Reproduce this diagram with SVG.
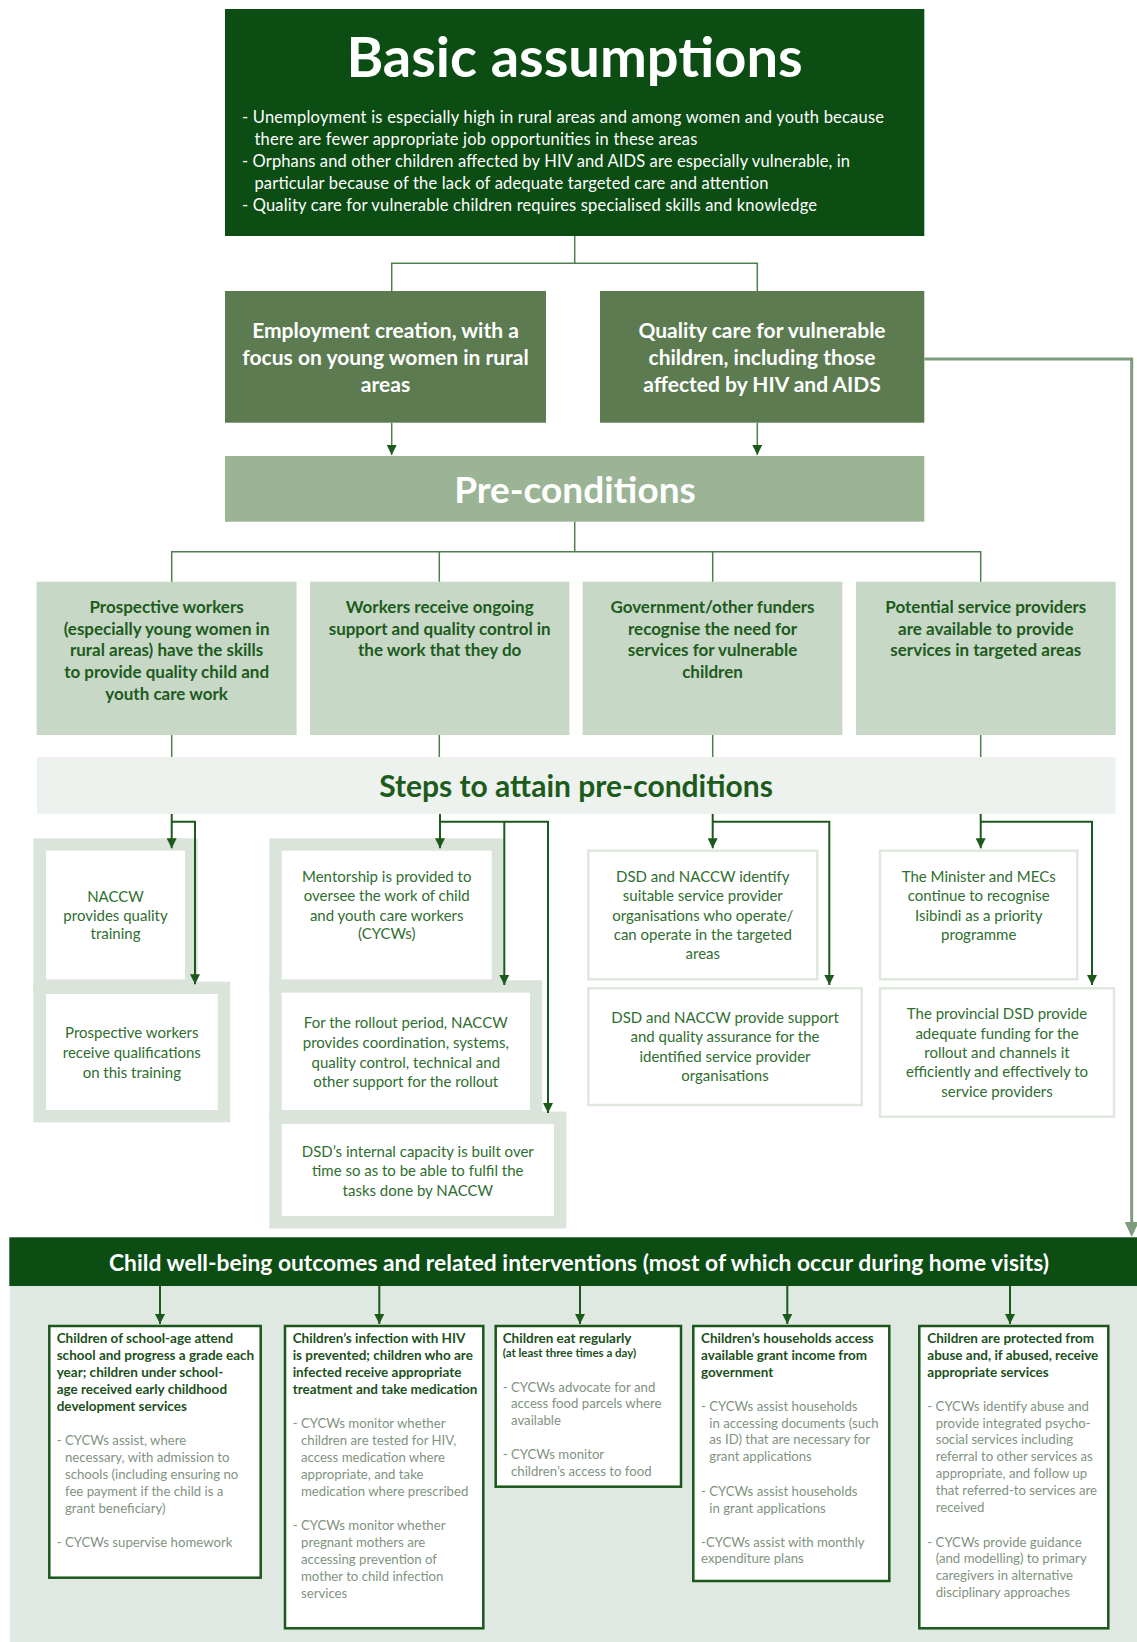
<svg xmlns="http://www.w3.org/2000/svg" width="1137" height="1642" viewBox="0 0 1137 1642">
<defs>
<style>
text{font-family:Lato,"Open Sans","Liberation Sans",sans-serif}
.w{fill:#ffffff}
.title{font-size:56px;font-weight:700;text-anchor:middle}
.bul{font-size:16.5px}
.l2{font-size:21px;font-weight:700;text-anchor:middle}
.pc{font-size:37px;font-weight:700;text-anchor:middle}
.pre{font-size:17px;font-weight:700;fill:#1d5b1d;text-anchor:middle}
.st{font-size:30px;font-weight:700;fill:#1d5b1d;text-anchor:middle}
.stp{font-size:15px;fill:#2f6e2f;text-anchor:middle}
.cw{font-size:22.8px;font-weight:700;text-anchor:middle}
.oh{font-size:13.5px;font-weight:700;fill:#1b4f1b}
.oh2{font-size:11.5px;font-weight:700;fill:#1b4f1b}
.ob{font-size:13.2px;fill:#7f937f}
.c1{fill:none;stroke:#4f7f4f;stroke-width:1.5}
.c2{fill:none;stroke:#1b5a1b;stroke-width:2}
.frame{fill:#dbe4db}
.inner{fill:#ffffff}
.thin{fill:#ffffff;stroke:#dfe7df;stroke-width:2.5}
.ob-box{fill:#ffffff;stroke:#1b561b;stroke-width:2.5}
</style>
<marker id="ah" markerWidth="10" markerHeight="10" refX="10" refY="5" orient="auto" markerUnits="userSpaceOnUse">
<path d="M0,0 L10,5 L0,10 z" fill="#1b5a1b"/>
</marker>
</defs>
<rect width="1137" height="1642" fill="#ffffff"/>

<g id="basic-assumptions">
<rect x="225" y="9" width="699.3" height="227" fill="#0b4d13"/>
<text class="title w" x="574.5" y="76.7">Basic assumptions</text>
<text class="bul w" x="242" y="123" textLength="642">- Unemployment is especially high in rural areas and among women and youth because</text>
<text class="bul w" x="254.4" y="145" textLength="443">there are fewer appropriate job opportunities in these areas</text>
<text class="bul w" x="242" y="167" textLength="608">- Orphans and other children affected by HIV and AIDS are especially vulnerable, in</text>
<text class="bul w" x="254.4" y="189" textLength="514">particular because of the lack of adequate targeted care and attention</text>
<text class="bul w" x="242" y="211" textLength="575">- Quality care for vulnerable children requires specialised skills and knowledge</text>
</g>

<g id="employment">
<rect x="225" y="291" width="321" height="131.7" fill="#5c7b51"/>
<text class="l2 w" x="385.5" y="338">Employment creation, with a</text>
<text class="l2 w" x="385.5" y="365">focus on young women in rural</text>
<text class="l2 w" x="385.5" y="391.7">areas</text>
</g>

<g id="quality-care">
<rect x="600" y="291" width="324.3" height="131.7" fill="#5c7b51"/>
<text class="l2 w" x="762" y="338">Quality care for vulnerable</text>
<text class="l2 w" x="762" y="365">children, including those</text>
<text class="l2 w" x="762" y="391.7">affected by HIV and AIDS</text>
</g>

<g id="pre-conditions">
<rect x="225" y="456" width="699.3" height="65.7" fill="#9ab495"/>
<text class="pc w" x="575" y="503">Pre-conditions</text>
</g>

<g id="pre-1">
<rect x="36.6" y="581.7" width="260" height="153.3" fill="#c8d8c7"/>
<text class="pre" x="166.6" y="613">Prospective workers</text>
<text class="pre" x="166.6" y="634.7">(especially young women in</text>
<text class="pre" x="166.6" y="656.3">rural areas) have the skills</text>
<text class="pre" x="166.6" y="678">to provide quality child and</text>
<text class="pre" x="166.6" y="699.7">youth care work</text>
</g>
<g id="pre-2">
<rect x="310" y="581.7" width="259.3" height="153.3" fill="#c8d8c7"/>
<text class="pre" x="439.7" y="613">Workers receive ongoing</text>
<text class="pre" x="439.7" y="634.7">support and quality control in</text>
<text class="pre" x="439.7" y="656.3">the work that they do</text>
</g>
<g id="pre-3">
<rect x="582.7" y="581.7" width="259.6" height="153.3" fill="#c8d8c7"/>
<text class="pre" x="712.5" y="613">Government/other funders</text>
<text class="pre" x="712.5" y="634.7">recognise the need for</text>
<text class="pre" x="712.5" y="656.3">services for vulnerable</text>
<text class="pre" x="712.5" y="678">children</text>
</g>
<g id="pre-4">
<rect x="856" y="581.7" width="259.7" height="153.3" fill="#c8d8c7"/>
<text class="pre" x="985.8" y="613">Potential service providers</text>
<text class="pre" x="985.8" y="634.7">are available to provide</text>
<text class="pre" x="985.8" y="656.3">services in targeted areas</text>
</g>

<g id="steps">
<rect x="37" y="757" width="1078.7" height="57" fill="#eef2ee"/>
<text class="st" x="576" y="796.7">Steps to attain pre-conditions</text>
</g>

<g id="step-1a">
<rect class="frame" x="33.3" y="838.3" width="164.4" height="153.4"/>
<rect class="inner" x="46" y="850.7" width="139" height="128.6"/>
<text class="stp" x="115.5" y="901.7">NACCW</text>
<text class="stp" x="115.5" y="920.7">provides quality</text>
<text class="stp" x="115.5" y="939.3">training</text>
</g>
<g id="step-1b">
<rect class="frame" x="33.3" y="981.7" width="197" height="140.6"/>
<rect class="inner" x="46" y="994" width="171.7" height="116"/>
<text class="stp" x="131.8" y="1038.3">Prospective workers</text>
<text class="stp" x="131.8" y="1058.3">receive qualifications</text>
<text class="stp" x="131.8" y="1077.7">on this training</text>
</g>
<g id="step-2a">
<rect class="frame" x="269.3" y="838.3" width="235" height="153.4"/>
<rect class="inner" x="281.7" y="850.7" width="210" height="128.6"/>
<text class="stp" x="386.7" y="881.7">Mentorship is provided to</text>
<text class="stp" x="386.7" y="901">oversee the work of child</text>
<text class="stp" x="386.7" y="920.7">and youth care workers</text>
<text class="stp" x="386.7" y="939.3">(CYCWs)</text>
</g>
<g id="step-2b">
<rect class="frame" x="269.3" y="980.3" width="273" height="142"/>
<rect class="inner" x="281.7" y="992.7" width="248.3" height="117.3"/>
<text class="stp" x="405.8" y="1028.3">For the rollout period, NACCW</text>
<text class="stp" x="405.8" y="1048.3">provides coordination, systems,</text>
<text class="stp" x="405.8" y="1068.3">quality control, technical and</text>
<text class="stp" x="405.8" y="1086.7">other support for the rollout</text>
</g>
<g id="step-2c">
<rect class="frame" x="269.3" y="1111.5" width="297.1" height="117"/>
<rect class="inner" x="281.7" y="1124" width="272.3" height="92"/>
<text class="stp" x="417.8" y="1156.7">DSD’s internal capacity is built over</text>
<text class="stp" x="417.8" y="1176">time so as to be able to fulfil the</text>
<text class="stp" x="417.8" y="1196">tasks done by NACCW</text>
</g>
<g id="step-3a">
<rect class="thin" x="588.3" y="850.7" width="229" height="128.6"/>
<text class="stp" x="702.8" y="881.7">DSD and NACCW identify</text>
<text class="stp" x="702.8" y="901">suitable service provider</text>
<text class="stp" x="702.8" y="920.7">organisations who operate/</text>
<text class="stp" x="702.8" y="940">can operate in the targeted</text>
<text class="stp" x="702.8" y="959.3">areas</text>
</g>
<g id="step-3b">
<rect class="thin" x="588.3" y="988.3" width="273.4" height="116.7"/>
<text class="stp" x="725" y="1022.7">DSD and NACCW provide support</text>
<text class="stp" x="725" y="1042.3">and quality assurance for the</text>
<text class="stp" x="725" y="1061.7">identified service provider</text>
<text class="stp" x="725" y="1081">organisations</text>
</g>
<g id="step-4a">
<rect class="thin" x="880" y="850.7" width="197.3" height="128.6"/>
<text class="stp" x="978.7" y="881.7">The Minister and MECs</text>
<text class="stp" x="978.7" y="901">continue to recognise</text>
<text class="stp" x="978.7" y="920.7">Isibindi as a priority</text>
<text class="stp" x="978.7" y="940">programme</text>
</g>
<g id="step-4b">
<rect class="thin" x="880" y="988.3" width="234" height="128.4"/>
<text class="stp" x="997" y="1019">The provincial DSD provide</text>
<text class="stp" x="997" y="1038.7">adequate funding for the</text>
<text class="stp" x="997" y="1057.7">rollout and channels it</text>
<text class="stp" x="997" y="1077.3">efficiently and effectively to</text>
<text class="stp" x="997" y="1096.7">service providers</text>
</g>

<g id="outcomes">
<rect x="10" y="1286" width="1127" height="356" fill="#dfe8e1"/>
<rect x="9.3" y="1237.3" width="1127.7" height="48.7" fill="#0b4d13"/>
<text class="cw w" x="579" y="1270.5" textLength="940">Child well-being outcomes and related interventions (most of which occur during home visits)</text>
</g>

<g id="outcome-1">
<rect class="ob-box" x="49.3" y="1326" width="211.4" height="251.7"/>
<text class="oh" x="56.7" y="1343.3">Children of school-age attend</text>
<text class="oh" x="56.7" y="1360">school and progress a grade each</text>
<text class="oh" x="56.7" y="1377.3">year; children under school-</text>
<text class="oh" x="56.7" y="1394">age received early childhood</text>
<text class="oh" x="56.7" y="1410.7">development services</text>
<text class="ob" x="56.7" y="1445">- CYCWs assist, where</text>
<text class="ob" x="65" y="1462.3">necessary, with admission to</text>
<text class="ob" x="65" y="1479.3">schools (including ensuring no</text>
<text class="ob" x="65" y="1496">fee payment if the child is a</text>
<text class="ob" x="65" y="1512.7">grant beneficiary)</text>
<text class="ob" x="56.7" y="1546.7">- CYCWs supervise homework</text>
</g>
<g id="outcome-2">
<rect class="ob-box" x="285" y="1326" width="198.3" height="302.3"/>
<text class="oh" x="292.7" y="1343.3">Children’s infection with HIV</text>
<text class="oh" x="292.7" y="1360">is prevented; children who are</text>
<text class="oh" x="292.7" y="1377.3">infected receive appropriate</text>
<text class="oh" x="292.7" y="1394">treatment and take medication</text>
<text class="ob" x="292.7" y="1428.3">- CYCWs monitor whether</text>
<text class="ob" x="301" y="1445">children are tested for HIV,</text>
<text class="ob" x="301" y="1462">access medication where</text>
<text class="ob" x="301" y="1479">appropriate, and take</text>
<text class="ob" x="301" y="1496">medication where prescribed</text>
<text class="ob" x="292.7" y="1530">- CYCWs monitor whether</text>
<text class="ob" x="301" y="1547">pregnant mothers are</text>
<text class="ob" x="301" y="1564">accessing prevention of</text>
<text class="ob" x="301" y="1581">mother to child infection</text>
<text class="ob" x="301" y="1597.7">services</text>
</g>
<g id="outcome-3">
<rect class="ob-box" x="495.7" y="1326" width="185.3" height="160.7"/>
<text class="oh" x="502.7" y="1343.3">Children eat regularly</text>
<text class="oh2" x="502.7" y="1357.3">(at least three times a day)</text>
<text class="ob" x="502.7" y="1391.7">- CYCWs advocate for and</text>
<text class="ob" x="511" y="1408.3">access food parcels where</text>
<text class="ob" x="511" y="1425">available</text>
<text class="ob" x="502.7" y="1459.3">- CYCWs monitor</text>
<text class="ob" x="511" y="1476">children’s access to food</text>
</g>
<g id="outcome-4">
<rect class="ob-box" x="693.3" y="1326" width="196" height="255"/>
<text class="oh" x="701" y="1343.3">Children’s households access</text>
<text class="oh" x="701" y="1360">available grant income from</text>
<text class="oh" x="701" y="1377.3">government</text>
<text class="ob" x="701" y="1410.7">- CYCWs assist households</text>
<text class="ob" x="709.3" y="1427.7">in accessing documents (such</text>
<text class="ob" x="709.3" y="1444.3">as ID) that are necessary for</text>
<text class="ob" x="709.3" y="1461">grant applications</text>
<text class="ob" x="701" y="1496">- CYCWs assist households</text>
<text class="ob" x="709.3" y="1513">in grant applications</text>
<text class="ob" x="701" y="1546.7">-CYCWs assist with monthly</text>
<text class="ob" x="701" y="1563.3">expenditure plans</text>
</g>
<g id="outcome-5">
<rect class="ob-box" x="919.3" y="1326" width="189" height="302.3"/>
<text class="oh" x="927.3" y="1343.3">Children are protected from</text>
<text class="oh" x="927.3" y="1360">abuse and, if abused, receive</text>
<text class="oh" x="927.3" y="1377.3">appropriate services</text>
<text class="ob" x="927.3" y="1410.7">- CYCWs identify abuse and</text>
<text class="ob" x="935.7" y="1427.7">provide integrated psycho-</text>
<text class="ob" x="935.7" y="1444.3">social services including</text>
<text class="ob" x="935.7" y="1461">referral to other services as</text>
<text class="ob" x="935.7" y="1478">appropriate, and follow up</text>
<text class="ob" x="935.7" y="1495">that referred-to services are</text>
<text class="ob" x="935.7" y="1512">received</text>
<text class="ob" x="927.3" y="1546.7">- CYCWs provide guidance</text>
<text class="ob" x="935.7" y="1563.3">(and modelling) to primary</text>
<text class="ob" x="935.7" y="1580">caregivers in alternative</text>
<text class="ob" x="935.7" y="1597">disciplinary approaches</text>
</g>

<g id="connectors">
<path class="c1" d="M574.7,236 V263.3 M391.7,291 V263.3 H757.3 V291"/>
<path class="c1" d="M391.7,422.7 V455" marker-end="url(#ah)"/>
<path class="c1" d="M757.3,422.7 V455" marker-end="url(#ah)"/>
<path class="c1" d="M574.7,521.7 V551.7 M171.7,581.7 V551.7 H980.7 V581.7 M439.3,551.7 V581.7 M712.7,551.7 V581.7"/>
<path class="c1" d="M171.7,735 V757 M439.3,735 V757 M712.7,735 V757 M980.7,735 V757"/>
<path fill="none" stroke="#7d9c79" stroke-width="3" d="M924.3,359 H1131.7 V1224"/>
<path fill="#7d9c79" d="M1124.7,1222 L1138.7,1222 L1131.7,1237 z"/>
<path class="c2" d="M171.7,814 V848.3" marker-end="url(#ah)"/>
<path class="c2" d="M171.7,821.7 H195 V984.3" marker-end="url(#ah)"/>
<path class="c2" d="M440,814 V848.3" marker-end="url(#ah)"/>
<path class="c2" d="M440,821.7 H548 V1113" marker-end="url(#ah)"/>
<path class="c2" d="M504.3,821.7 V985" marker-end="url(#ah)"/>
<path class="c2" d="M712.7,814 V848.3" marker-end="url(#ah)"/>
<path class="c2" d="M712.7,821.7 H829.3 V985" marker-end="url(#ah)"/>
<path class="c2" d="M980.7,814 V848.3" marker-end="url(#ah)"/>
<path class="c2" d="M980.7,821.7 H1092 V985" marker-end="url(#ah)"/>
<path class="c2" d="M160,1286 V1324" marker-end="url(#ah)"/>
<path class="c2" d="M379.3,1286 V1324" marker-end="url(#ah)"/>
<path class="c2" d="M580,1286 V1324" marker-end="url(#ah)"/>
<path class="c2" d="M787.3,1286 V1324" marker-end="url(#ah)"/>
<path class="c2" d="M1010,1286 V1324" marker-end="url(#ah)"/>
</g>
</svg>
